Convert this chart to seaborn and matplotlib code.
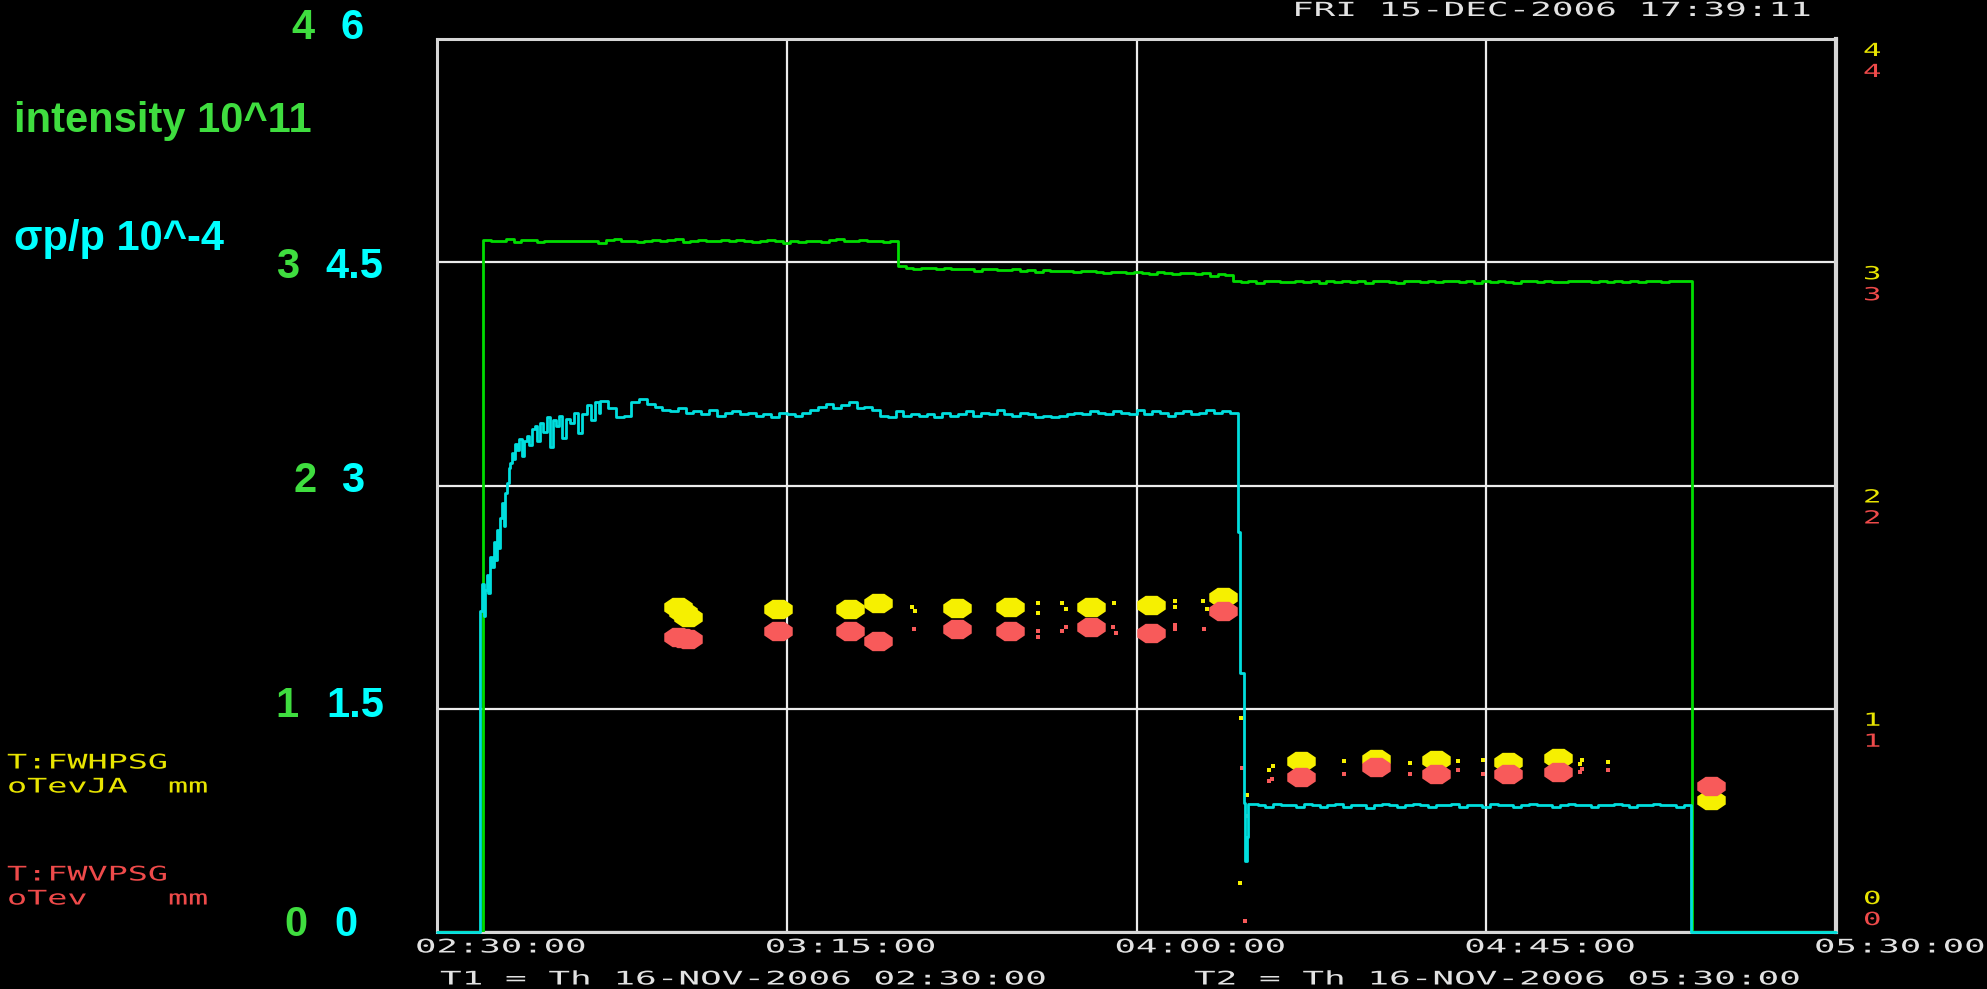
import numpy as np
import pandas as pd
import matplotlib
matplotlib.use("Agg")
import matplotlib.pyplot as plt
import matplotlib.transforms as mtransforms
from matplotlib.patheffects import AbstractPathEffect
import seaborn as sns

# ---------------------------------------------------------------- data
# time axis: minutes after T1 = 16-NOV-2006 02:30:00
time_ticks = [0, 45, 90, 135, 180]
time_tick_labels = ["02:30:00", "03:15:00", "04:00:00", "04:45:00", "05:30:00"]

intensity_ticks = ["4", "3", "2", "1", "0"]      # 10^11
spread_ticks = ["6", "4.5", "3", "1.5", "0"]      # 10^-4
width_ticks = [4, 3, 2, 1, 0]                     # mm

# beam intensity [1e11]: step times and one reading per minute in between
intensity_edges = [5.9, 59.3, 102.4, 161.5]
intensity_store1 = [3.100, 3.097, 3.094, 3.105, 3.092, 3.098, 3.101, 3.090, 3.096, 3.095,
                    3.093, 3.097, 3.094, 3.096, 3.095, 3.087, 3.099, 3.104, 3.093, 3.097,
                    3.090, 3.095, 3.101, 3.094, 3.098, 3.104, 3.092, 3.096, 3.100, 3.097,
                    3.093, 3.101, 3.095, 3.098, 3.094, 3.090, 3.096, 3.099, 3.093, 3.088,
                    3.095, 3.092, 3.097, 3.094, 3.090, 3.098, 3.102, 3.093, 3.096, 3.099,
                    3.094, 3.097, 3.092, 3.096]
intensity_store2 = [2.985, 2.975, 2.972, 2.974, 2.973, 2.971, 2.973, 2.968, 2.972, 2.970,
                    2.962, 2.968, 2.971, 2.967, 2.965, 2.969, 2.963, 2.966, 2.958, 2.964,
                    2.962, 2.960, 2.963, 2.955, 2.961, 2.959, 2.957, 2.952, 2.958, 2.956,
                    2.950, 2.957, 2.954, 2.948, 2.955, 2.952, 2.946, 2.953, 2.950, 2.947,
                    2.951, 2.940, 2.948, 2.945]
intensity_store3 = [2.916, 2.912, 2.915, 2.908, 2.914, 2.917, 2.913, 2.910, 2.915, 2.913,
                    2.916, 2.905, 2.914, 2.912, 2.917, 2.911, 2.914, 2.909, 2.915, 2.918,
                    2.913, 2.906, 2.914, 2.916, 2.912, 2.915, 2.910, 2.914, 2.917, 2.913,
                    2.915, 2.909, 2.914, 2.912, 2.916, 2.913, 2.907, 2.914, 2.915, 2.912,
                    2.916, 2.913, 2.910, 2.915, 2.914, 2.917, 2.912, 2.914, 2.911, 2.915,
                    2.913, 2.916, 2.912, 2.914, 2.915, 2.913, 2.916, 2.914, 2.918]

# momentum spread sigma_p/p [1e-4]
spread_rise_t = [5.5, 5.8, 6.0, 6.2, 6.4, 6.6, 6.8, 7.1, 7.3, 7.5, 7.7, 7.9, 8.1, 8.4,
                 8.6, 8.8, 9.0, 9.2, 9.4, 9.6, 9.8, 10.1, 10.3, 10.6, 10.9, 11.2, 11.6,
                 11.9, 12.2, 12.6, 12.9, 13.3, 13.7, 14.1, 14.5, 14.9, 15.3, 15.7, 16.1,
                 16.6, 17.1, 17.6, 18.1, 18.6, 19.3, 19.8, 20.3, 20.8]
spread_rise_v = [2.16, 2.34, 2.12, 2.30, 2.40, 2.28, 2.52, 2.45, 2.62, 2.50, 2.70, 2.58,
                 2.78, 2.88, 2.73, 2.95, 3.02, 3.12, 3.15, 3.22, 3.18, 3.28, 3.24, 3.31,
                 3.20, 3.30, 3.33, 3.27, 3.38, 3.40, 3.30, 3.42, 3.36, 3.46, 3.26, 3.44,
                 3.40, 3.47, 3.32, 3.45, 3.42, 3.49, 3.35, 3.48, 3.54, 3.44, 3.56, 3.49]
spread_flat_edges = [21.0, 103.0]
spread_flat = [3.57, 3.52, 3.46, 3.47, 3.56, 3.58, 3.55, 3.53, 3.51, 3.50, 3.52, 3.49,
               3.50, 3.48, 3.51, 3.47, 3.49, 3.50, 3.48, 3.49, 3.47, 3.48, 3.46, 3.49,
               3.48, 3.47, 3.49, 3.51, 3.53, 3.55, 3.52, 3.54, 3.56, 3.52, 3.53, 3.51,
               3.47, 3.46, 3.50, 3.47, 3.48, 3.47, 3.48, 3.46, 3.49, 3.47, 3.48, 3.50,
               3.47, 3.49, 3.48, 3.51, 3.48, 3.47, 3.49, 3.48, 3.46, 3.47, 3.46, 3.47,
               3.48, 3.49, 3.48, 3.50, 3.49, 3.48, 3.50, 3.49, 3.48, 3.51, 3.48, 3.50,
               3.49, 3.47, 3.49, 3.50, 3.48, 3.49, 3.51, 3.49, 3.50, 3.49]
spread_drop_t = [103.0, 103.3, 103.8, 104.0, 104.2, 104.4]
spread_drop_v = [2.69, 1.74, 0.87, 0.48, 0.64, 0.86]
spread_low_edges = [104.6, 161.4]
spread_low = [0.86, 0.85, 0.84, 0.86, 0.85, 0.85, 0.84, 0.86, 0.85, 0.84, 0.85, 0.86,
              0.84, 0.85, 0.85, 0.83, 0.85, 0.86, 0.85, 0.84, 0.85, 0.86, 0.85, 0.84,
              0.85, 0.85, 0.86, 0.84, 0.85, 0.85, 0.84, 0.86, 0.85, 0.85, 0.84, 0.85,
              0.86, 0.85, 0.85, 0.84, 0.85, 0.86, 0.85, 0.85, 0.84, 0.85, 0.85, 0.86,
              0.85, 0.84, 0.85, 0.85, 0.86, 0.85, 0.85, 0.84, 0.85]

# profile widths [mm]: horizontal (T:FWHPSG) and vertical (T:FWVPSG)
fwh_t = [31.0, 31.6, 32.3, 43.9, 53.1, 56.7, 66.9, 73.7, 84.1, 91.9, 101.1,
         111.2, 120.8, 128.5, 137.8, 144.2, 163.9]
fwh_v = [1.456, 1.435, 1.411, 1.447, 1.447, 1.474, 1.451, 1.456, 1.456, 1.465, 1.501,
         0.764, 0.775, 0.770, 0.761, 0.779, 0.591]
fwv_t = [31.0, 31.6, 32.3, 43.9, 53.1, 56.7, 66.9, 73.7, 84.1, 91.9, 101.1,
         111.2, 120.8, 128.5, 137.8, 144.2, 163.9]
fwv_v = [1.321, 1.318, 1.312, 1.348, 1.348, 1.303, 1.357, 1.348, 1.366, 1.339, 1.438,
         0.694, 0.739, 0.708, 0.708, 0.717, 0.654]

# single-scan width readings between the averaged points
fwh_dot_t = [61.1, 61.5, 77.3, 77.3, 80.4, 80.9, 87.1, 95.0, 95.0, 98.6, 99.1, 103.4,
             107.6, 107.1, 104.2, 116.7, 125.2, 131.4, 134.6, 147.1, 147.3, 150.7, 103.3]
fwh_dot_v = [1.456, 1.438, 1.474, 1.429, 1.474, 1.447, 1.474, 1.483, 1.456, 1.483, 1.447,
             0.959, 0.744, 0.726, 0.614, 0.766, 0.757, 0.766, 0.770, 0.753, 0.770, 0.761,
             0.219]
fwv_dot_t = [61.4, 77.3, 77.3, 80.4, 80.9, 87.0, 87.4, 95.0, 95.0, 98.7, 107.4, 107.1,
             103.6, 104.2, 116.7, 125.2, 131.4, 134.6, 147.1, 147.3, 150.7, 104.0]
fwv_dot_v = [1.357, 1.348, 1.321, 1.348, 1.366, 1.366, 1.339, 1.375, 1.357, 1.357, 0.685,
             0.676, 0.735, 0.520, 0.708, 0.708, 0.726, 0.708, 0.717, 0.730, 0.726, 0.049]

# ------------------------------------------------------------- helpers
def sampled(start, stop, values):
    """Times for readings spread evenly over [start, stop)."""
    n = len(values)
    return list(start + (stop - start) * np.arange(n) / n)


class Widened(AbstractPathEffect):
    """Draw glyph outlines stretched horizontally about the text origin."""

    def __init__(self, sx):
        super().__init__()
        self.sx = sx

    def draw_path(self, renderer, gc, tpath, affine, rgbFace=None):
        renderer.draw_path(gc, tpath,
                           mtransforms.Affine2D().scale(self.sx, 1.0) + affine,
                           rgbFace)


intensity_df = pd.DataFrame({
    "t": [0.0]
    + sampled(intensity_edges[0], intensity_edges[1], intensity_store1)
    + sampled(intensity_edges[1], intensity_edges[2], intensity_store2)
    + sampled(intensity_edges[2], intensity_edges[3], intensity_store3)
    + [intensity_edges[3], 180.0],
    "v": [0.0] + intensity_store1 + intensity_store2 + intensity_store3 + [0.0, 0.0],
})

spread_df = pd.DataFrame({
    "t": [0.0] + spread_rise_t
    + sampled(spread_flat_edges[0], spread_flat_edges[1], spread_flat)
    + spread_drop_t
    + sampled(spread_low_edges[0], spread_low_edges[1], spread_low)
    + [spread_low_edges[1], 180.0],
    "v": [0.0] + spread_rise_v + spread_flat + spread_drop_v + spread_low + [0.0, 0.0],
})

fwh_df = pd.DataFrame({"t": fwh_t, "v": fwh_v})
fwv_df = pd.DataFrame({"t": fwv_t, "v": fwv_v})
fwh_dot_df = pd.DataFrame({"t": fwh_dot_t, "v": fwh_dot_v})
fwv_dot_df = pd.DataFrame({"t": fwv_dot_t, "v": fwv_dot_v})

# -------------------------------------------------------------- style
sns.set_theme(style="white", rc={"axes.facecolor": "black",
                                 "figure.facecolor": "black",
                                 "savefig.facecolor": "black"})
plt.rcParams["font.family"] = ["DejaVu Sans"]

GREEN_LINE = "#00dc00"
GREEN_TEXT = "#3fdd3f"
CYAN_LINE = "#00dede"
CYAN_TEXT = "#00ffff"
YELLOW = "#f6f000"
RED = "#f85a5a"
YELLOW_TEXT = "#e8e400"
RED_TEXT = "#ee4a4a"
TERM_TEXT = "#e2e2e2"
FRAME = "#d6d6d6"

W, H = 1987, 989
fig = plt.figure(figsize=(W / 100, H / 100), dpi=100)
ax = fig.add_axes([437 / W, (H - 932) / H, 1399 / W, 893 / H])
ax.set_facecolor("black")

# flattened octagon used for the averaged width readings
ang = np.deg2rad(22.5 + 45 * np.arange(8))
octagon = np.column_stack([np.cos(ang), 0.68 * np.sin(ang)])

# ------------------------------------------------------------ drawing
sns.lineplot(data=intensity_df, x="t", y="v", ax=ax, color=GREEN_LINE, lw=2.0,
             drawstyle="steps-post", estimator=None, legend=False, zorder=3)

sns.scatterplot(data=fwh_dot_df, x="t", y="v", ax=ax, color=YELLOW, marker="s",
                s=5, linewidth=0, legend=False, zorder=4)
sns.scatterplot(data=fwv_dot_df, x="t", y="v", ax=ax, color=RED, marker="s",
                s=5, linewidth=0, legend=False, zorder=4)
sns.scatterplot(data=fwh_df, x="t", y="v", ax=ax, color=YELLOW, marker=octagon,
                s=420, linewidth=0, legend=False, zorder=5)
sns.scatterplot(data=fwv_df, x="t", y="v", ax=ax, color=RED, marker=octagon,
                s=420, linewidth=0, legend=False, zorder=6)

ax.set_xlim(0, 180)
ax.set_ylim(0, 4)
ax.set_xticks(time_ticks)
ax.set_yticks(width_ticks)
ax.grid(True, color="#ececec", lw=1.6)
ax.tick_params(length=0, labelbottom=False, labelleft=False)
ax.set_xlabel("")
ax.set_ylabel("")
for side, sp in ax.spines.items():
    sp.set_visible(True)
    sp.set_color(FRAME)
    sp.set_linewidth(3.0 if side == "right" else 2.2)

# momentum spread on its own 0-6 scale sharing the grid
ax_s = ax.twinx()
sns.lineplot(data=spread_df, x="t", y="v", ax=ax_s, color=CYAN_LINE, lw=2.0,
             drawstyle="steps-post", estimator=None, legend=False, clip_on=False)
ax_s.set_xlim(0, 180)
ax_s.set_ylim(0, 6)
ax_s.set_axis_off()

# ------------------------------------------------------------- text
MONO = "DejaVu Sans Mono"


def term_text(px, py, s, color, size=14, sx=1.8, va="center"):
    fig.text(px / W, 1 - py / H, s, color=color, fontsize=size, family=MONO,
             ha="left", va=va, path_effects=[Widened(sx)])


# time labels under the grid lines
xlab = mtransforms.offset_copy(
    mtransforms.blended_transform_factory(ax.transData, fig.transFigure),
    fig=fig, x=-22, y=0, units="dots")
for t, lab in zip(time_ticks, time_tick_labels):
    ax.text(t, 1 - 947 / H, lab, transform=xlab, color=TERM_TEXT, fontsize=13.5,
            family=MONO, ha="left", va="center", path_effects=[Widened(1.9)])

term_text(440, 979, "T1 = Th 16-NOV-2006 02:30:00", TERM_TEXT, 13.5, 1.92)
term_text(1194, 979, "T2 = Th 16-NOV-2006 05:30:00", TERM_TEXT, 13.5, 1.92)
term_text(1292, 16, "FRI 15-DEC-2006 17:39:11", TERM_TEXT, 14, 1.85, va="baseline")

# width legend
term_text(7, 763, "T:FWHPSG", YELLOW_TEXT, 14.5, 1.66)
term_text(7, 787, "oTevJA  mm", YELLOW_TEXT, 14.5, 1.66)
term_text(7, 875, "T:FWVPSG", RED_TEXT, 14.5, 1.66)
term_text(7, 899, "oTev    mm", RED_TEXT, 14.5, 1.66)

# right-hand width scale (yellow = horizontal, red = vertical)
for v in width_ticks:
    dy_yel, dy_red = (-12, -33) if v > 0 else (33, 12)
    for dy, col in ((dy_yel, YELLOW_TEXT), (dy_red, RED_TEXT)):
        tr = mtransforms.offset_copy(
            mtransforms.blended_transform_factory(ax.transAxes, ax.transData),
            fig=fig, x=27, y=dy, units="dots")
        ax.text(1.0, v, str(v), transform=tr, color=col, fontsize=13, family=MONO,
                ha="left", va="center", path_effects=[Widened(1.7)])

# left-hand scales and titles
BOLD = dict(family=["Liberation Sans", "DejaVu Sans"], fontweight="bold", fontsize=30)
fig.text(14 / W, 1 - 132 / H, "intensity 10^11", color=GREEN_TEXT, va="baseline", **BOLD)
fig.text(14 / W, 1 - 250 / H, "σp/p 10^-4", color=CYAN_TEXT, va="baseline", **BOLD)

scale_baselines = [39, 278, 492, 717, 936]
intensity_right = [315, 299, 317, 298, 307]
spread_left = [341, 325, 341, 326, 334]
for lab_i, lab_s, yb, xr, xl in zip(intensity_ticks, spread_ticks, scale_baselines,
                                    intensity_right, spread_left):
    fig.text(xr / W, 1 - yb / H, lab_i, color=GREEN_TEXT, ha="right", va="baseline", **BOLD)
    fig.text(xl / W, 1 - yb / H, lab_s, color=CYAN_TEXT, ha="left", va="baseline", **BOLD)

fig.savefig("out.png", dpi=100, facecolor="black")
